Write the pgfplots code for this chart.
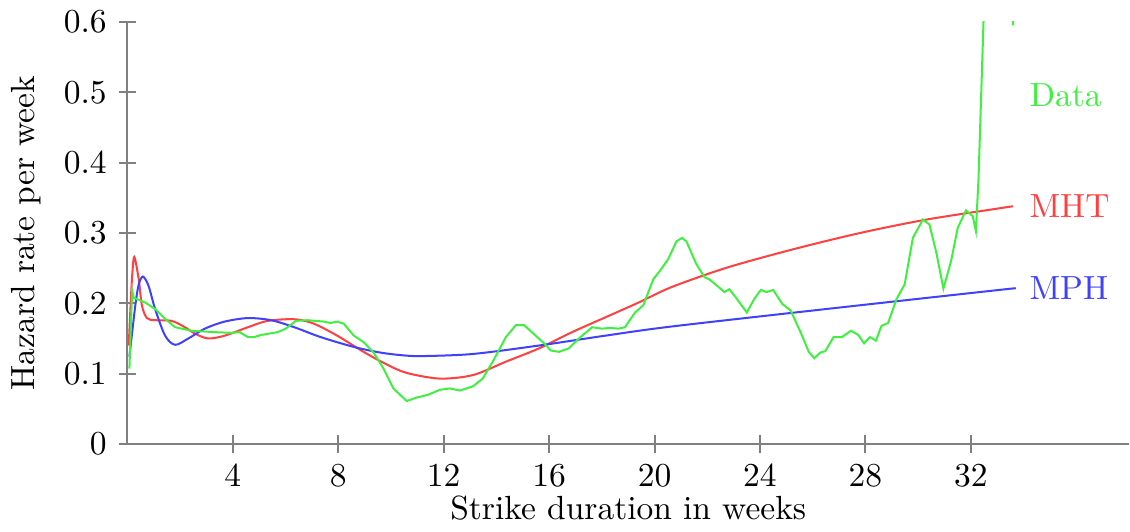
\documentclass[border=0pt]{standalone}
\usepackage{pgfplots}
\pgfplotsset{compat=1.18}

\definecolor{mht}{RGB}{255,64,64}
\definecolor{mph}{RGB}{64,64,255}
\definecolor{dat}{RGB}{64,240,64}
\definecolor{axgray}{RGB}{128,128,128}

\begin{document}
\begin{tikzpicture}
\begin{axis}[
  scale only axis,
  width=299pt, height=126pt,
  xmin=0, xmax=38,
  ymin=0, ymax=0.6,
  axis lines*=left,
  axis line style={axgray, line width=0.6pt},
  tick style={axgray, line width=0.6pt},
  tick align=center,
  major tick length=5.3pt,
  xtick={4,8,...,32},
  ytick={0,0.1,...,0.6},
  yticklabel style={/pgf/number format/fixed, /pgf/number format/precision=1},
  xlabel={Strike duration in weeks},
  ylabel={Hazard rate per week},
  xlabel style={yshift=4pt},
  every axis plot/.append style={line width=0.6pt},
]
% MHT
\addplot[mht, smooth, tension=0.5] coordinates {
  (0.05,0.140) (0.12,0.197) (0.18,0.239) (0.26,0.266) (0.43,0.234)
  (0.55,0.197) (0.74,0.179) (1.05,0.176) (1.68,0.175) (2.18,0.166)
  (2.56,0.157) (3.06,0.150) (3.69,0.154) (4.57,0.166) (5.20,0.174)
  (5.83,0.177) (6.45,0.177) (7.08,0.171) (7.96,0.154) (8.96,0.131)
  (9.84,0.113) (10.60,0.101) (11.85,0.093) (13.11,0.098) (14.36,0.117)
  (15.62,0.136) (16.87,0.159) (18.13,0.180) (19.39,0.201) (20.64,0.223)
  (22.77,0.251) (25.28,0.277) (27.80,0.300) (30.31,0.319) (33.07,0.335)
  (33.60,0.338)
};
% MPH
\addplot[mph, smooth, tension=0.5] coordinates {
  (0.075,0.124) (0.30,0.197) (0.43,0.227) (0.59,0.238) (0.80,0.225)
  (1.05,0.192) (1.43,0.154) (1.81,0.141) (2.31,0.150) (2.94,0.164)
  (3.69,0.174) (4.57,0.179) (5.45,0.176) (6.33,0.166) (7.33,0.152)
  (8.59,0.138) (9.59,0.130) (10.47,0.126) (11.22,0.125) (13.11,0.128)
  (15.62,0.140) (18.13,0.154) (20.64,0.167) (26.54,0.192) (33.07,0.219)
  (33.60,0.221)
};
% Data
\addplot[dat] coordinates {
  (0.075,0.107) (0.18,0.218) (0.24,0.208) (0.68,0.201) (1.05,0.192)
  (1.43,0.178) (1.81,0.166) (2.44,0.161) (3.31,0.159) (3.94,0.158)
  (4.26,0.159) (4.57,0.152) (4.82,0.152) (5.07,0.155) (5.70,0.159)
  (6.01,0.164) (6.39,0.175) (6.83,0.176) (7.46,0.174) (7.71,0.172)
  (7.96,0.174) (8.21,0.171) (8.59,0.154) (8.96,0.145) (9.34,0.130)
  (9.72,0.107) (10.09,0.079) (10.60,0.061) (10.97,0.066) (11.41,0.070)
  (11.85,0.077) (12.23,0.079) (12.61,0.076) (13.11,0.082) (13.48,0.093)
  (13.86,0.117) (14.36,0.152) (14.74,0.169) (15.05,0.169) (15.49,0.154)
  (15.81,0.143) (16.06,0.133) (16.37,0.131) (16.75,0.136) (17.13,0.150)
  (17.63,0.166) (18.00,0.164) (18.32,0.165) (18.63,0.164) (18.88,0.166)
  (19.26,0.187) (19.57,0.197) (19.95,0.234) (20.26,0.249) (20.52,0.263)
  (20.83,0.288) (21.04,0.293) (21.21,0.288) (21.58,0.256) (21.90,0.237)
  (22.08,0.234) (22.34,0.226) (22.65,0.216) (22.84,0.220) (23.09,0.208)
  (23.50,0.187) (23.78,0.206) (24.03,0.219) (24.26,0.216) (24.50,0.219)
  (24.85,0.199) (25.16,0.190) (25.54,0.159) (25.85,0.131) (26.06,0.122)
  (26.29,0.130) (26.48,0.132) (26.79,0.152) (27.11,0.152) (27.45,0.161)
  (27.73,0.155) (27.95,0.143) (28.17,0.152) (28.40,0.147) (28.61,0.168)
  (28.86,0.172) (29.18,0.206) (29.49,0.227) (29.80,0.293) (30.18,0.319)
  (30.43,0.312) (30.69,0.272) (30.96,0.221) (31.25,0.260) (31.50,0.307)
  (31.81,0.332) (32.07,0.324) (32.19,0.303) (32.29,0.376) (33.50,1.800)
  (33.60,0.595)
};
\node[mht, anchor=west, inner sep=0pt] at (axis cs:34.2,0.338) {MHT};
\node[mph, anchor=west, inner sep=0pt] at (axis cs:34.2,0.221) {MPH};
\node[dat, anchor=west, inner sep=0pt] at (axis cs:34.2,0.496) {Data};
\end{axis}
\end{tikzpicture}
\end{document}
